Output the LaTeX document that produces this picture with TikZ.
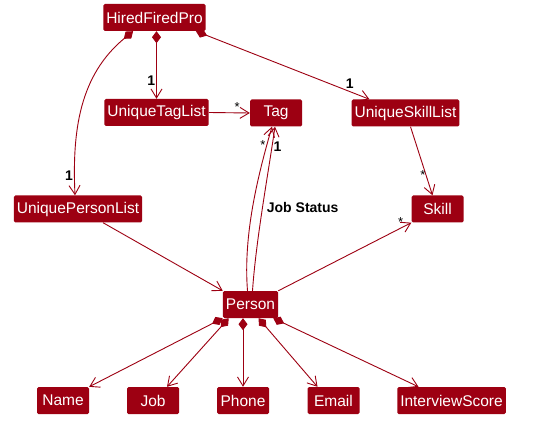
\documentclass[tikz,border=0pt]{standalone}
\usepackage{fontspec}
\setmainfont{Liberation Sans}
\usetikzlibrary{arrows.meta, positioning, calc}
\definecolor{modelred}{HTML}{9D0012}

\begin{document}
\begin{tikzpicture}[
    x=1pt, y=-1pt,
    cls/.style={
        fill=modelred,
        text=white,
        rounded corners=1.5pt,
        minimum width=52pt,
        minimum height=27pt,
        inner xsep=3pt,
        inner ysep=0pt,
        font=\fontsize{15.5}{18}\selectfont
    },
    assoc/.style={
        draw=modelred,
        line width=0.9pt,
        -{Straight Barb[length=9pt, width=11pt]}
    },
    comp/.style={
        assoc,
        {Diamond[length=12pt, width=9pt]}-{Straight Barb[length=9pt, width=11pt]}
    },
    mult/.style={
        font=\fontsize{14}{16}\selectfont\bfseries,
        inner sep=1pt
    },
    star/.style={
        font=\fontsize{13}{15}\selectfont,
        inner sep=1pt
    }
]

\path[use as bounding box, fill=white] (0,0) rectangle (537,427);

% Top
\node[cls] (hfp) at (154.5, 17.5) {HiredFiredPro};

% Lists and Tag
\node[cls] (utl) at (156.5, 112.5) {UniqueTagList};
\node[cls] (tag) at (276, 113) {Tag};
\node[cls] (usl) at (405.5, 113) {UniqueSkillList};
\node[cls] (upl) at (78, 209) {UniquePersonList};
\node[cls] (skill) at (437.5, 209) {Skill};

% Person
\node[cls] (person) at (250.5, 304.5) {Person};

% Attributes
\node[cls] (name) at (63, 400.5) {Name};
\node[cls] (job) at (153, 400.5) {Job};
\node[cls] (phone) at (243, 400.5) {Phone};
\node[cls] (email) at (333.5, 400.5) {Email};
\node[cls] (score) at (451.5, 400.5) {InterviewScore};

% HiredFiredPro links
\draw[comp] ([xshift=2]hfp.south) -- (utl.north)
    node[mult, pos=0.73, left] {1};
\draw[comp] ([xshift=30]hfp.south west) .. controls (80,75) and (72,130) .. ([xshift=-3]upl.north)
    node[mult, pos=0.9, left] {1};
\draw[comp] ([xshift=-10]hfp.south east) -- ([xshift=18]usl.north west)
    node[mult, pos=0.886, above, yshift=2pt] {1};

% Lists to elements
\draw[assoc] (utl.east) -- (tag.west)
    node[star, pos=0.69, above] {*};
\draw[assoc] ([xshift=5]usl.south) -- ([xshift=-5]skill.north)
    node[star, pos=0.7, left, inner sep=0pt] {*};
\draw[assoc] ([xshift=25]upl.south) -- (person.north west);

% Person to Tag and Skill
\draw[assoc] ([xshift=-3]person.north) .. controls (243,235) and (258,175) .. ([xshift=-4]tag.south)
    node[star, pos=0.88, left] {*};
\draw[assoc] ([xshift=2]person.north) .. controls (256,240) and (268,175) .. ([xshift=-1]tag.south)
    node[mult, pos=0.87, right] {1}
    node[mult, pos=0.5, right, inner sep=4pt] {Job Status};
\draw[assoc] (person.north east) -- (skill.south west)
    node[star, pos=0.92, above] {*};

% Person attributes
\draw[comp] (person.south west) -- (name.north east);
\draw[comp] ([xshift=6]person.south west) -- ([xshift=14]job.north);
\draw[comp] (phone.north |- person.south) -- (phone.north);
\draw[comp] ([xshift=8]person.south) -- ([xshift=-16]email.north);
\draw[comp] ([xshift=-5]person.south east) -- ([xshift=-33]score.north);

\end{tikzpicture}
\end{document}
